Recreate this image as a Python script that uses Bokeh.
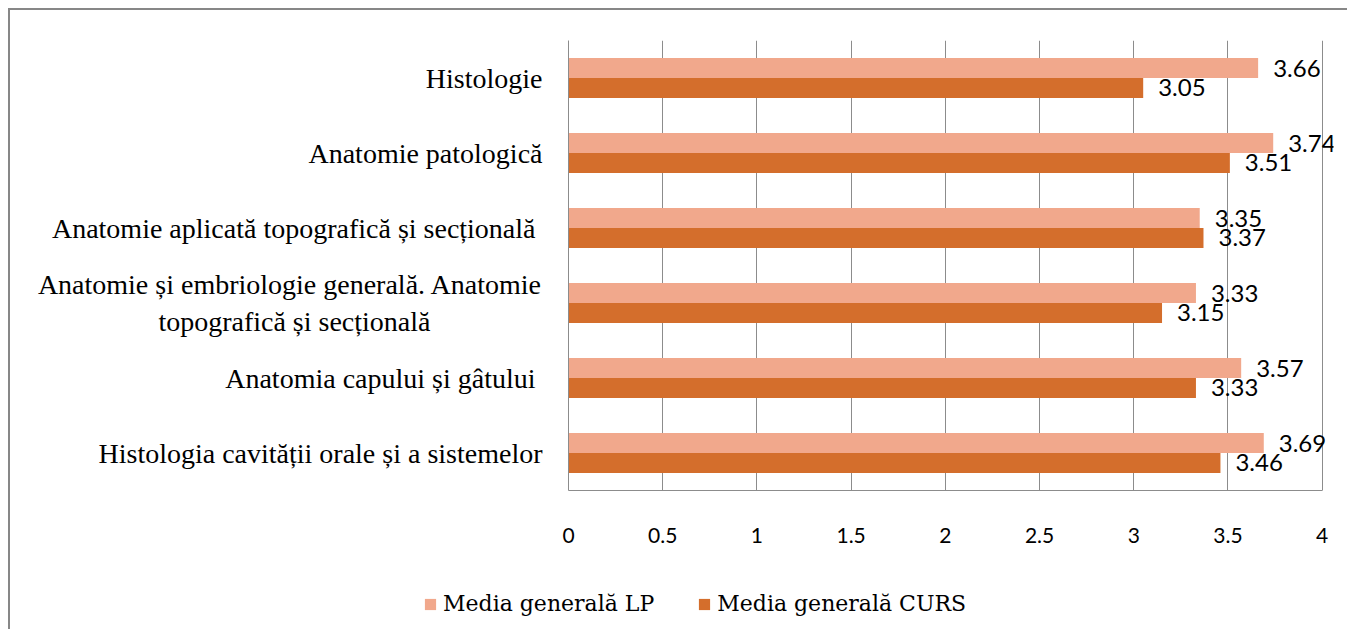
from bokeh.plotting import figure
from bokeh.layouts import column
from bokeh.models import ColumnDataSource, FactorRange, Range1d, Legend, LegendItem, FixedTicker
from bokeh.transform import dodge
from bokeh.core.properties import value
from bokeh.embed import file_html
from bokeh.resources import INLINE

NB = "\u00a0"
categories = [
    "Histologie",
    "Anatomie patologică",
    "Anatomie aplicată topografică și secțională ",
    "Anatomie și embriologie generală. Anatomie\ntopografică și secțională" + NB * 16,
    "Anatomia capului și gâtului ",
    "Histologia cavității orale și a sistemelor",
]
lp_values = [3.66, 3.74, 3.35, 3.33, 3.57, 3.69]
curs_values = [3.05, 3.51, 3.37, 3.15, 3.33, 3.46]
series_names = ["Media generală LP", "Media generală CURS"]
x_ticks = [0, 0.5, 1, 1.5, 2, 2.5, 3, 3.5, 4]

LP_COLOR = "#F1A88C"
CURS_COLOR = "#D46E2C"
GRID = "#8C8C8C"

W = 1337

src = ColumnDataSource(dict(
    cat=categories,
    lp=lp_values,
    curs=curs_values,
    lp_lbl=[f"{v:.2f}" for v in lp_values],
    curs_lbl=[f"{v:.2f}" for v in curs_values],
))

p = figure(
    width=W, height=550,
    y_range=FactorRange(*reversed(categories), range_padding=0),
    x_range=Range1d(0, 4.06),
    output_backend="svg", toolbar_location=None,
    min_border_left=558, min_border_right=W - 1323, min_border_top=30, min_border_bottom=70,
)
p.outline_line_color = None

r_lp = p.hbar(y=dodge("cat", 0.133, range=p.y_range), right="lp", left=0, height=0.266,
              source=src, fill_color=LP_COLOR, line_color=None)
r_curs = p.hbar(y=dodge("cat", -0.133, range=p.y_range), right="curs", left=0, height=0.266,
                source=src, fill_color=CURS_COLOR, line_color=None)

label_font = value("Lato")
p.text(x="lp", y=dodge("cat", 0.133, range=p.y_range), text="lp_lbl", source=src,
       x_offset=15, text_baseline="middle", text_align="left",
       text_font=label_font, text_font_size="24px", text_color="black")
p.text(x="curs", y=dodge("cat", -0.133, range=p.y_range), text="curs_lbl", source=src,
       x_offset=15, text_baseline="middle", text_align="left",
       text_font=label_font, text_font_size="24px", text_color="black")

# grid
p.ygrid.grid_line_color = None
p.xgrid.grid_line_color = GRID
p.xgrid.grid_line_width = 1

# x axis
p.xaxis.ticker = FixedTicker(ticks=x_ticks)
p.xaxis.bounds = (0, 4)
p.xaxis.axis_line_color = GRID
p.xaxis.major_tick_line_color = None
p.xaxis.minor_tick_line_color = None
p.xaxis.major_tick_out = 0
p.xaxis.major_tick_in = 0
p.xaxis.major_label_standoff = 37
p.xaxis.major_label_text_font = "Lato"
p.xaxis.major_label_text_font_size = "21px"
p.xaxis.major_label_text_color = "black"

# y axis
p.yaxis.axis_line_color = GRID
p.yaxis.major_tick_line_color = None
p.yaxis.minor_tick_line_color = None
p.yaxis.major_tick_out = 0
p.yaxis.major_label_standoff = 26
p.yaxis.major_label_text_font = "Liberation Serif"
p.yaxis.major_label_text_font_size = "28px"
p.yaxis.major_label_text_color = "black"

# legend in its own strip below the chart
p_leg = figure(
    width=W, height=69, x_range=Range1d(0, 1), y_range=Range1d(10, 11),
    output_backend="svg", toolbar_location=None,
    x_axis_location=None, y_axis_location=None,
    min_border_left=0, min_border_right=0, min_border_top=0, min_border_bottom=0,
)
if "frame_align" in p_leg.properties():
    p_leg.frame_align = False
    p.frame_align = False
p_leg.outline_line_color = None
p_leg.grid.visible = False
# legend proxies use the real data; they fall outside this strip's range
g_lp = p_leg.hbar(y="lp", right="lp", left=0, height=0.1, source=src,
                  fill_color=LP_COLOR, line_color=None)
g_curs = p_leg.hbar(y="curs", right="curs", left=0, height=0.1, source=src,
                    fill_color=CURS_COLOR, line_color=None)

legend = Legend(
    items=[LegendItem(label=series_names[0], renderers=[g_lp]),
           LegendItem(label=series_names[1], renderers=[g_curs])],
    orientation="horizontal", location=(413, 13),
    glyph_width=14, glyph_height=14, label_standoff=6, spacing=43,
    label_text_font="DejaVu Serif", label_text_font_size="22px",
    label_text_color="black", border_line_color=None, background_fill_alpha=0,
    margin=0, padding=0,
)
p_leg.add_layout(legend, "center")

layout = column(p, p_leg, spacing=0, styles={
    "border-left": "2px solid #878787",
    "border-top": "2px solid #878787",
    "margin-left": "8px",
    "margin-top": "8px",
})

open("out.html", "w").write(file_html(layout, INLINE))
